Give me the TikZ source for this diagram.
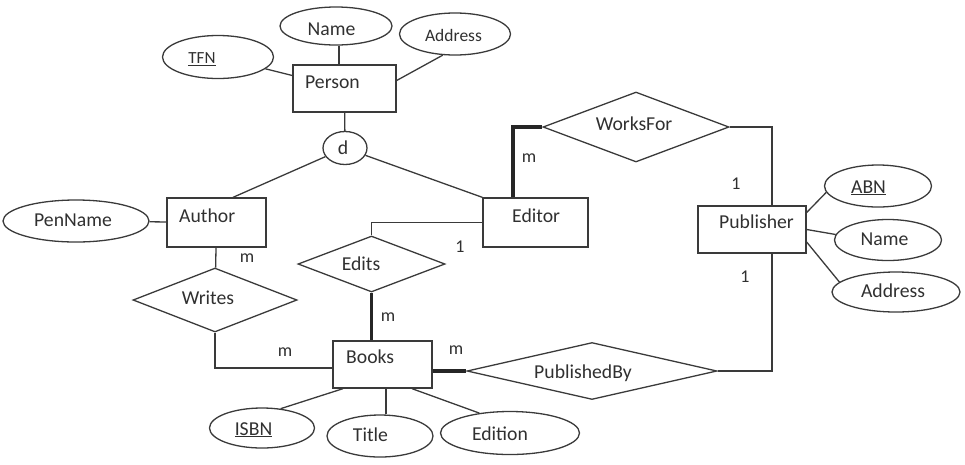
\documentclass[tikz,border=0pt]{standalone}
\usepackage{fontspec}
\setmainfont{Carlito}
\usetikzlibrary{shapes.geometric,calc}
\definecolor{ln}{HTML}{3A3A3A}
\definecolor{tx}{HTML}{303030}
\tikzset{
  ent/.style={draw=ln, line width=1.3pt, rectangle, inner sep=0pt},
  rel/.style={draw=ln, line width=1.3pt, diamond, inner sep=0pt},
  attr/.style={draw=ln, line width=1.3pt, ellipse, inner sep=0pt},
  conn/.style={draw=ln, line width=1.3pt},
  boldconn/.style={draw=black!85, line width=3.5pt},
  txt/.style={text=tx, inner sep=0pt, anchor=base, font=\fontsize{19.7}{23}\selectfont},
  smalltxt/.style={txt, font=\fontsize{17.5}{21}\selectfont},
  card/.style={text=tx, inner sep=0pt, anchor=base, font=\fontsize{18}{21}\selectfont},
}
\begin{document}
\begin{tikzpicture}[x=1pt, y=-1pt]
\useasboundingbox (0,0) rectangle (965,464);

% entities
\node[ent, minimum width=103pt, minimum height=47pt] (person) at (344.5,88.5) {};
\node[ent, minimum width=99pt, minimum height=49pt] (author) at (216.5,222.5) {};
\node[ent, minimum width=105pt, minimum height=49pt] (editor) at (535.5,222.5) {};
\node[ent, minimum width=108pt, minimum height=47pt] (publisher) at (752,229.5) {};
\node[ent, minimum width=99pt, minimum height=47pt] (books) at (382.5,364.5) {};

% relationships
\node[rel, minimum width=186pt, minimum height=70pt] (worksfor) at (636,127) {};
\node[rel, minimum width=164pt, minimum height=64pt] (writes) at (215,300) {};
\node[rel, minimum width=147pt, minimum height=56pt] (edits) at (371.5,264) {};
\node[rel, minimum width=250pt, minimum height=57pt] (pubby) at (592,371) {};

% attributes
\node[attr, minimum width=111pt, minimum height=43pt] (tfn) at (218,57) {};
\node[attr, minimum width=112pt, minimum height=38pt] (name) at (336,26) {};
\node[attr, minimum width=111pt, minimum height=42pt] (address) at (455,34) {};
\node[attr, minimum width=44pt, minimum height=33pt] (d) at (345,148) {};
\node[attr, minimum width=146pt, minimum height=42pt] (penname) at (76,221) {};
\node[attr, minimum width=107pt, minimum height=42pt] (abn) at (878,186) {};
\node[attr, minimum width=107pt, minimum height=41pt] (pname) at (888,240) {};
\node[attr, minimum width=128pt, minimum height=40pt] (paddress) at (896,292) {};
\node[attr, minimum width=105pt, minimum height=40pt] (isbn) at (262,428) {};
\node[attr, minimum width=106pt, minimum height=42pt] (title) at (380,436) {};
\node[attr, minimum width=139pt, minimum height=43pt] (edition) at (510,433) {};

% connectors
\draw[conn] (tfn) -- (person);
\draw[conn] ([xshift=3pt]name.south) -- ([xshift=3pt]name.south |- person.north);
\draw[conn] (address.240) -- ([yshift=8pt]person.east);
\draw[conn] (person) -- (d);
\draw[conn] (d) -- ([xshift=16.5pt]author.north);
\draw[conn] (d) -- (editor.north west);
\draw[conn] (penname) -- (author);
\draw[conn] (author) -- (writes);
\draw[conn] (writes.south) |- ([yshift=-3.5pt]books.west);
\draw[boldconn] (edits) -- (edits |- books.north);
\draw[conn] (edits.north) |- (editor.west);
\draw[boldconn] ([xshift=-22.5pt]editor.north) |- (worksfor.west);
\draw[conn] (worksfor.east) -| ([xshift=20pt]publisher.north);
\draw[conn] ([xshift=20pt]publisher.south) |- (pubby.east);
\draw[boldconn] ([yshift=-6.5pt]books.east) -- (pubby.west);
\draw[conn] ([yshift=17pt]publisher.east) -- (abn.187);
\draw[conn] (publisher.east) -- (pname.174);
\draw[conn] ([yshift=-12.5pt]publisher.east) -- (paddress.170);
\draw[conn] ([xshift=-39.5pt]books.south) -- (isbn.46);
\draw[conn] ([xshift=3.5pt]books.south) -- ([xshift=6pt]title.north);
\draw[conn] ([xshift=29.5pt]books.south) -- (edition.147);

% texts
\node[txt] (tname) at (331.5,35) {Name};
\node[smalltxt] (taddress) at (453.5,41.7) {Address};
\node[txt, font=\fontsize{17}{20}\selectfont] (ttfn) at (202,63.3) {\underline{TFN}};
\node[txt, anchor=base west] (tperson) at (305,88) {Person};
\node[txt] (td) at (343,154) {d};
\node[txt] (tpenname) at (73,226.7) {PenName};
\node[txt, anchor=base west] (tauthor) at (179,222) {Author};
\node[txt, anchor=base west] (teditor) at (512,222) {Editor};
\node[txt] (tworksfor) at (634,130) {WorksFor};
\node[txt, anchor=base west] (tpublisher) at (719,228) {Publisher};
\node[txt] (tabn) at (868.5,193) {\underline{ABN}};
\node[txt] (tpname) at (884.5,245.7) {Name};
\node[txt] (tpaddress) at (893,297.7) {Address};
\node[txt] (twrites) at (208,304) {Writes};
\node[txt] (tedits) at (361,270) {Edits};
\node[txt, anchor=base west] (tbooks) at (346,363) {Books};
\node[txt] (tpubby) at (583,378) {PublishedBy};
\node[txt] (tisbn) at (253.5,435) {\underline{ISBN}};
\node[txt] (ttitle) at (370.5,441.7) {Title};
\node[txt] (tedition) at (500,440) {Edition};

% cardinalities
\node[card] (c1) at (247,262.7) {m};
\node[card] (c2) at (285,356.7) {m};
\node[card] (c3) at (388,321.7) {m};
\node[card] (c4) at (460,252.7) {1};
\node[card] (c5) at (456,354) {m};
\node[card] (c6) at (529,162.7) {m};
\node[card] (c7) at (736,189) {1};
\node[card] (c8) at (745,282.7) {1};
\end{tikzpicture}
\end{document}
